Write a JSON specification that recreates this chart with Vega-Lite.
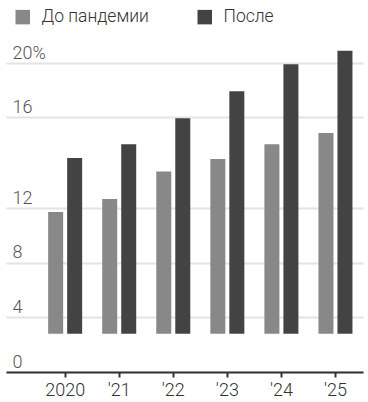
{
  "$schema": "https://vega.github.io/schema/vega-lite/v6.json",
  "width": 349,
  "height": 372,
  "autosize": {"type": "none"},
  "padding": {"left": 11, "top": 0, "right": 8, "bottom": 30},
  "background": "white",
  "data": {
    "values": [
      {"year": "2020", "series": "До пандемии", "value": 11.7},
      {"year": "2020", "series": "После", "value": 14.2},
      {"year": "'21", "series": "До пандемии", "value": 12.4},
      {"year": "'21", "series": "После", "value": 14.8},
      {"year": "'22", "series": "До пандемии", "value": 13.6},
      {"year": "'22", "series": "После", "value": 15.95},
      {"year": "'23", "series": "До пандемии", "value": 14.15},
      {"year": "'23", "series": "После", "value": 17.9},
      {"year": "'24", "series": "До пандемии", "value": 14.8},
      {"year": "'24", "series": "После", "value": 19.9},
      {"year": "'25", "series": "До пандемии", "value": 15.3},
      {"year": "'25", "series": "После", "value": 20.9}
    ]
  },
  "mark": {"type": "bar", "cornerRadius": 0},
  "encoding": {
    "x": {
      "field": "year",
      "type": "ordinal",
      "sort": null,
      "scale": {"range": [-5, 352], "paddingInner": 0.371, "paddingOuter": 0.4874, "align": 0.8},
      "axis": {
        "title": null,
        "labelAngle": 0,
        "domainColor": "#333333",
        "domainWidth": 2,
        "tickColor": "#333333",
        "tickWidth": 2,
        "tickSize": 5,
        "labelPadding": 4,
        "labelFont": "Roboto",
        "labelFontWeight": 300,
        "labelFontSize": 18,
        "labelColor": "#333333",
        "grid": false
      }
    },
    "xOffset": {
      "field": "series",
      "type": "nominal",
      "sort": ["До пандемии", "После"],
      "scale": {"paddingInner": 0.2105, "paddingOuter": 0}
    },
    "y": {
      "field": "value",
      "type": "quantitative",
      "scale": {"domain": [0, 12, 16, 20], "range": [372, 208, 117, 63], "nice": false, "zero": false},
      "axis": {
        "title": null,
        "values": [0, 4, 8, 12, 16, 20],
        "labelExpr": "datum.value == 20 ? '20%' : datum.label",
        "domain": false,
        "ticks": false,
        "labelAlign": "left",
        "labelBaseline": "alphabetic",
        "labelPadding": -1,
        "labelOffset": -5,
        "labelFont": "Roboto",
        "labelFontWeight": 300,
        "labelFontSize": 18,
        "labelColor": "#555555",
        "gridColor": "#e4e4e4",
        "gridWidth": 2
      }
    },
    "y2": {"datum": 2.8},
    "color": {
      "field": "series",
      "type": "nominal",
      "sort": ["До пандемии", "После"],
      "scale": {"domain": ["До пандемии", "После"], "range": ["#888888", "#434343"]},
      "legend": {
        "title": null,
        "orient": "none",
        "legendX": 3,
        "legendY": 8,
        "direction": "horizontal",
        "padding": 0,
        "symbolType": "square",
        "symbolSize": 210,
        "symbolStrokeWidth": 0,
        "symbolOpacity": 1,
        "labelFont": "Roboto",
        "labelFontWeight": 300,
        "labelFontSize": 17.5,
        "labelColor": "#333333",
        "labelOffset": 10,
        "columnPadding": 47
      }
    }
  },
  "config": {"view": {"stroke": null}}
}
